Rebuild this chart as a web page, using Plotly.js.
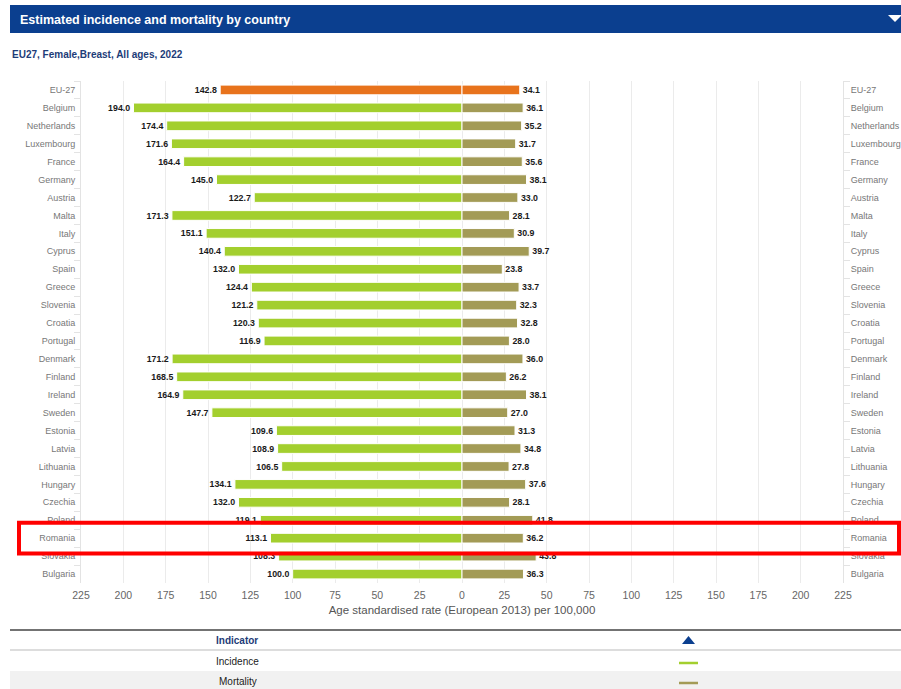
<!DOCTYPE html>
<html>
<head>
<meta charset="utf-8">
<script src="https://cdn.plot.ly/plotly-3.0.1.min.js"></script>
<style>
  html, body { margin: 0; padding: 0; background: #ffffff; }
  #chart { width: 901px; height: 689px; }
</style>
</head>
<body>
<div id="chart"></div>
<script>
const countries = ["EU-27","Belgium","Netherlands","Luxembourg","France","Germany","Austria","Malta","Italy","Cyprus","Spain","Greece","Slovenia","Croatia","Portugal","Denmark","Finland","Ireland","Sweden","Estonia","Latvia","Lithuania","Hungary","Czechia","Poland","Romania","Slovakia","Bulgaria"];
const incidence = [142.8,194.0,174.4,171.6,164.4,145.0,122.7,171.3,151.1,140.4,132.0,124.4,121.2,120.3,116.9,171.2,168.5,164.9,147.7,109.6,108.9,106.5,134.1,132.0,119.1,113.1,108.3,100.0];
const mortality = [34.1,36.1,35.2,31.7,35.6,38.1,33.0,28.1,30.9,39.7,23.8,33.7,32.3,32.8,28.0,36.0,26.2,38.1,27.0,31.3,34.8,27.8,37.6,28.1,41.8,36.2,43.8,36.3];
const tickValues = [-225,-200,-175,-150,-125,-100,-75,-50,-25,0,25,50,75,100,125,150,175,200,225];
const tickLabels = ["225","200","175","150","125","100","75","50","25","0","25","50","75","100","125","150","175","200","225"];
const highlighted = "Romania";

const W = 901, H = 689;
const M = {l: 81, r: 58, t: 81, b: 106};
const PW = W - M.l - M.r, PH = H - M.t - M.b;
const px = x => (x - M.l) / PW;
const py = y => (H - M.b - y) / PH;

const GREEN = "#a3cf2e", OLIVE = "#a39b56", ORANGE = "#e8731c";
const incColors = countries.map(c => c === "EU-27" ? ORANGE : GREEN);
const morColors = countries.map(c => c === "EU-27" ? ORANGE : OLIVE);

const textFont = {family: "Liberation Sans, Arial, sans-serif", size: 10, color: "#1a1a1a"};

const traces = [
  {
    type: "bar", orientation: "h", name: "Incidence",
    y: countries, x: incidence.map(v => -v),
    marker: {color: incColors, line: {color: "#ffffff", width: 1}},
    text: incidence.map(v => "<b>" + v.toFixed(1) + "</b>"),
    textposition: "outside", textfont: textFont, cliponaxis: false,
    hoverinfo: "skip"
  },
  {
    type: "bar", orientation: "h", name: "Mortality",
    y: countries, x: mortality,
    marker: {color: morColors, line: {color: "#ffffff", width: 1}},
    text: mortality.map(v => "<b>" + v.toFixed(1) + "</b>"),
    textposition: "outside", textfont: textFont, cliponaxis: false,
    hoverinfo: "skip"
  },
  {
    type: "scatter", mode: "markers", yaxis: "y2",
    y: countries, x: countries.map(() => 0),
    marker: {opacity: 0}, hoverinfo: "skip", showlegend: false
  }
];

const catAxis = {
  type: "category", categoryorder: "array", categoryarray: countries,
  range: [countries.length - 0.5, -0.5],
  showgrid: false, zeroline: false,
  showline: true, linecolor: "#e3e3e3", linewidth: 1,
  ticks: "outside", tickson: "boundaries", ticklen: 6, tickcolor: "#e3e3e3",
  tickfont: {family: "Liberation Sans, Arial, sans-serif", size: 9, color: "#777777"},
  fixedrange: true
};

const shapes = [
  {type: "rect", xref: "paper", yref: "paper", x0: px(10), x1: px(901), y0: py(5), y1: py(33),
   fillcolor: "#0b3f8f", line: {width: 0}, layer: "below"},
  {type: "path", xref: "paper", yref: "paper",
   path: `M ${px(888)} ${py(15)} L ${px(902)} ${py(15)} L ${px(895)} ${py(22)} Z`,
   fillcolor: "#ffffff", line: {width: 0}},
  {type: "line", xref: "paper", yref: "paper", x0: px(10), x1: px(901), y0: py(630), y1: py(630),
   line: {color: "#444444", width: 1.5}},
  {type: "line", xref: "paper", yref: "paper", x0: px(10), x1: px(901), y0: py(650), y1: py(650),
   line: {color: "#bbbbbb", width: 1}},
  {type: "rect", xref: "paper", yref: "paper", x0: px(10), x1: px(901), y0: py(671), y1: py(689),
   fillcolor: "#f1f1f1", line: {width: 0}, layer: "below"},
  {type: "path", xref: "paper", yref: "paper",
   path: `M ${px(682)} ${py(644)} L ${px(695)} ${py(644)} L ${px(688.5)} ${py(636)} Z`,
   fillcolor: "#0b3f8f", line: {width: 0}},
  {type: "line", xref: "paper", yref: "paper", x0: px(679), x1: px(698), y0: py(663), y1: py(663),
   line: {color: GREEN, width: 2.5}},
  {type: "line", xref: "paper", yref: "paper", x0: px(679), x1: px(698), y0: py(683), y1: py(683),
   line: {color: OLIVE, width: 2.5}},
  {type: "rect", xref: "paper", yref: "y", x0: px(19), x1: px(899),
   y0: countries.indexOf(highlighted) - 0.86, y1: countries.indexOf(highlighted) + 0.86,
   line: {color: "#ff0000", width: 4}, fillcolor: "rgba(0,0,0,0)"}
];

const annFont = "Liberation Sans, Arial, sans-serif";
const annotations = [
  {xref: "paper", yref: "paper", x: px(18), y: py(20), xanchor: "left", yanchor: "middle",
   text: "<b>Estimated incidence and mortality by country</b>", showarrow: false,
   font: {family: annFont, size: 12.5, color: "#ffffff"}},
  {xref: "paper", yref: "paper", x: px(10), y: py(54), xanchor: "left", yanchor: "middle",
   text: "<b>EU27, Female,Breast, All ages, 2022</b>", showarrow: false,
   font: {family: annFont, size: 10, color: "#1d3c78"}},
  {xref: "paper", yref: "paper", x: px(214), y: py(640), xanchor: "left", yanchor: "middle",
   text: "<b>Indicator</b>", showarrow: false,
   font: {family: annFont, size: 10, color: "#1d3c78"}},
  {xref: "paper", yref: "paper", x: px(214), y: py(661), xanchor: "left", yanchor: "middle",
   text: "Incidence", showarrow: false,
   font: {family: annFont, size: 10, color: "#222222"}},
  {xref: "paper", yref: "paper", x: px(217), y: py(681), xanchor: "left", yanchor: "middle",
   text: "Mortality", showarrow: false,
   font: {family: annFont, size: 10, color: "#222222"}}
];

const layout = {
  width: W, height: H,
  margin: M,
  paper_bgcolor: "#ffffff", plot_bgcolor: "#ffffff",
  barmode: "relative", bargap: 0.46,
  showlegend: false,
  font: {family: annFont},
  xaxis: {
    range: [-225, 225], tickmode: "array", tickvals: tickValues, ticktext: tickLabels,
    showgrid: true, gridcolor: "#ebebeb", gridwidth: 1,
    zeroline: false, showline: false, ticks: "outside", ticklen: 2, tickcolor: "rgba(0,0,0,0)",
    tickfont: {family: annFont, size: 10.5, color: "#666666"},
    title: {text: "Age standardised rate (European 2013) per 100,000", standoff: 6,
            font: {family: annFont, size: 11.5, color: "#555555"}},
    fixedrange: true
  },
  yaxis: Object.assign({}, catAxis, {side: "left", ticklabelstandoff: 3}),
  yaxis2: Object.assign({}, catAxis, {side: "right", overlaying: "y", anchor: "x", ticklabelstandoff: 5}),
  shapes: shapes,
  annotations: annotations
};

Plotly.newPlot("chart", traces, layout, {displayModeBar: false, staticPlot: true});
</script>
</body>
</html>
